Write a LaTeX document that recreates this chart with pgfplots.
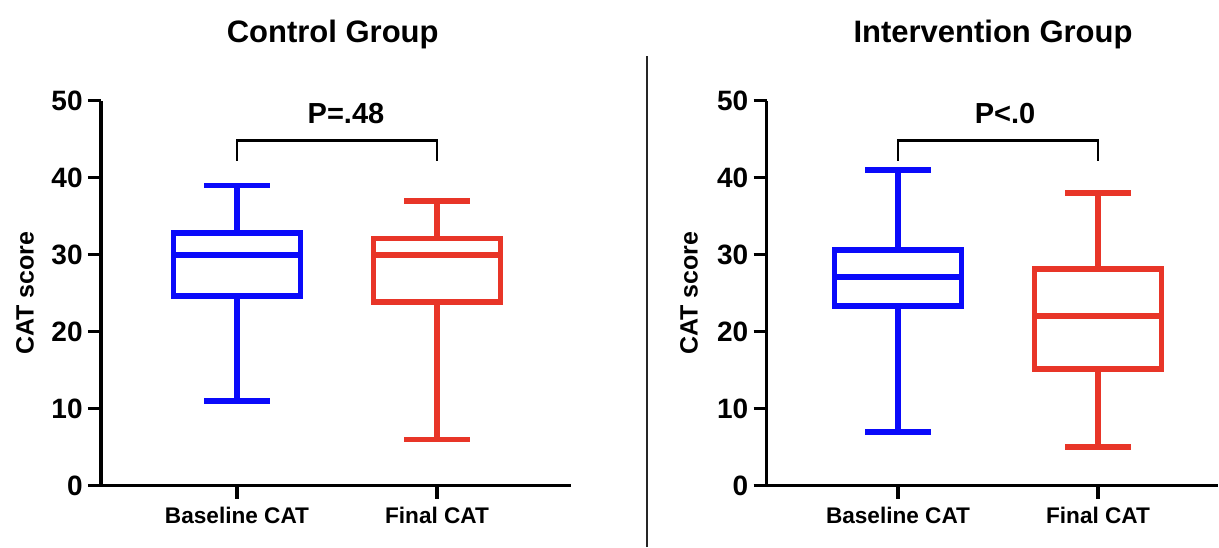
\documentclass[border=0pt]{standalone}
\usepackage{pgfplots}
\pgfplotsset{compat=1.18}
\usepackage{fontspec}
\setmainfont{Liberation Sans}
\definecolor{cblue}{RGB}{10,10,250}
\definecolor{cred}{RGB}{232,53,40}

\pgfplotsset{
 panel/.style={
  scale only axis, axis lines=left, axis line style={-, line width=1.65pt},
  ymin=0,ymax=50, ytick={0,10,20,30,40,50},
  xtick={0,1}, xticklabels={Baseline CAT, Final CAT},
  tick align=outside, major tick length=6.5pt,
  tick style={black, line width=1.65pt},
  /pgf/number format/assume math mode=true,
  yticklabel style={font=\bfseries\fontsize{14}{14}\selectfont, inner sep=2.5pt},
  xticklabel style={font=\bfseries\fontsize{11.3}{11.3}\selectfont, inner sep=4pt},
  ylabel={CAT score},
  ylabel style={font=\bfseries\fontsize{12.5}{12.5}\selectfont, anchor=center},
  height=192.5pt, clip=false, unbounded coords=jump,
 },
 bx/.style={draw=#1, line width=2.9pt, line join=miter, line cap=butt, solid, mark=none},
}

\begin{document}
\begin{tikzpicture}
\useasboundingbox (0,0) rectangle (609.5pt,273.5pt);

\begin{axis}[panel, at={(50.5pt,30.65pt)}, anchor=south west, width=235pt, xmin=-0.68, xmax=1.67, ylabel style={at={(axis description cs:-0.1617,0.5)}}]
% Control, Baseline CAT: whiskers 11/39, quartiles 24.6/32.8, median 30
\addplot[bx=cblue] coordinates {(-0.3175,24.6) (0.3175,24.6) (0.3175,32.8) (-0.3175,32.8)} -- cycle;
\addplot[bx=cblue] coordinates {(-0.3175,30) (0.3175,30) (nan,nan) (0,32.8) (0,39) (nan,nan) (-0.165,39) (0.165,39) (nan,nan) (0,24.6) (0,11) (nan,nan) (-0.165,11) (0.165,11)};
% Control, Final CAT: whiskers 6/37, quartiles 23.9/32.1, median 30
\addplot[bx=cred] coordinates {(0.6825,23.9) (1.3175,23.9) (1.3175,32.1) (0.6825,32.1)} -- cycle;
\addplot[bx=cred] coordinates {(0.6825,30) (1.3175,30) (nan,nan) (1,32.1) (1,37) (nan,nan) (0.835,37) (1.165,37) (nan,nan) (1,23.9) (1,6) (nan,nan) (0.835,6) (1.165,6)};
\draw[line width=1.35pt, line join=miter] (axis cs:0,42.2) -- (axis cs:0,44.8) -- (axis cs:1,44.8) -- (axis cs:1,42.2);
\node[anchor=base, inner sep=0pt, font=\bfseries\fontsize{14.5}{14.5}\selectfont] at (axis cs:0.545,47.1) {P=.48};
\end{axis}

\begin{axis}[panel, at={(383.35pt,30.65pt)}, anchor=south west, width=225.65pt, xmin=-0.6565, xmax=1.6, ylabel style={at={(axis description cs:-0.1724,0.5)}}]
% Intervention, Baseline CAT: whiskers 7/41, quartiles 23.3/30.6, median 27.1
\addplot[bx=cblue] coordinates {(-0.3175,23.3) (0.3175,23.3) (0.3175,30.6) (-0.3175,30.6)} -- cycle;
\addplot[bx=cblue] coordinates {(-0.3175,27.1) (0.3175,27.1) (nan,nan) (0,30.6) (0,41) (nan,nan) (-0.165,41) (0.165,41) (nan,nan) (0,23.3) (0,7) (nan,nan) (-0.165,7) (0.165,7)};
% Intervention, Final CAT: whiskers 5/38, quartiles 15.2/28.1, median 22
\addplot[bx=cred] coordinates {(0.6825,15.2) (1.3175,15.2) (1.3175,28.1) (0.6825,28.1)} -- cycle;
\addplot[bx=cred] coordinates {(0.6825,22) (1.3175,22) (nan,nan) (1,28.1) (1,38) (nan,nan) (0.835,38) (1.165,38) (nan,nan) (1,15.2) (1,5) (nan,nan) (0.835,5) (1.165,5)};
\draw[line width=1.35pt, line join=miter] (axis cs:0,42.2) -- (axis cs:0,44.8) -- (axis cs:1,44.8) -- (axis cs:1,42.2);
\node[anchor=base, inner sep=0pt, font=\bfseries\fontsize{14.5}{14.5}\selectfont] at (axis cs:0.535,47.1) {P<.0};
\end{axis}

\node[anchor=base, inner sep=0pt, font=\bfseries\fontsize{15.5}{15.5}\selectfont] at (166.35pt,252.15pt) {Control Group};
\node[anchor=base, inner sep=0pt, font=\bfseries\fontsize{15.5}{15.5}\selectfont] at (496.5pt,252.15pt) {Intervention Group};
\draw[line width=1pt, black!85] (323.35pt,0) -- (323.35pt,245.5pt);
\end{tikzpicture}
\end{document}
